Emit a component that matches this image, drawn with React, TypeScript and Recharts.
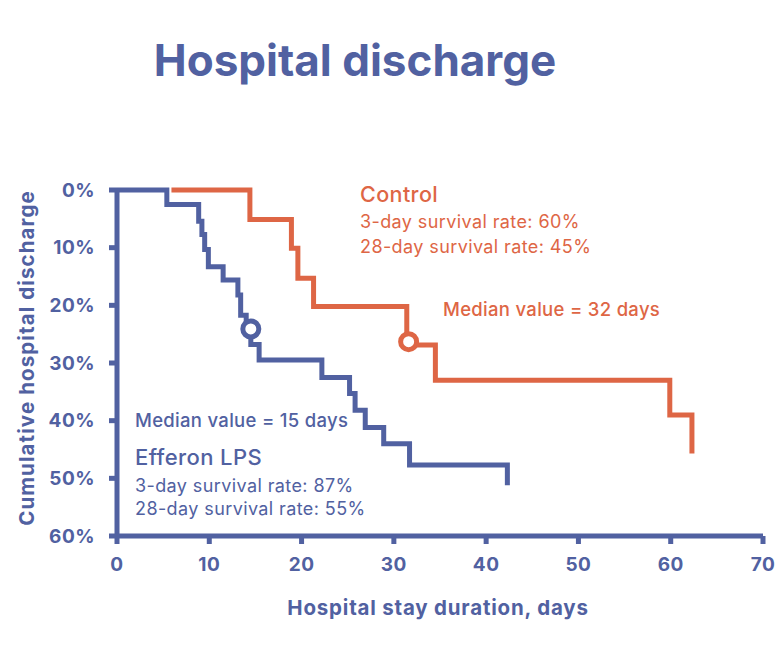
import React from "react";
import {
  LineChart,
  Line,
  XAxis,
  YAxis,
  ReferenceDot,
} from "recharts";

const BLUE = "#5161a1";
const ORANGE = "#de6645";
const FONT = "Inter, 'Open Sans', sans-serif";

// Efferon LPS: day of each event and cumulative discharge (%) after it
const efferonDays = [0, 5.4, 8.85, 9.2, 9.5, 9.9, 11.5, 13.1, 13.4, 14.0, 14.5, 15.4, 22.2, 25.2, 25.8, 26.9, 28.9, 31.7, 42.3];
const efferonPct = [0, 2.5, 5.4, 7.7, 10.3, 13.3, 15.6, 18.2, 21.7, 24.3, 26.8, 29.5, 32.5, 35.3, 38.2, 41.2, 44.0, 47.7, 51.2];

// Control
const controlDays = [5.9, 14.4, 18.9, 19.6, 21.3, 31.4, 34.5, 59.9, 62.3];
const controlPct = [0, 5.1, 10.1, 15.3, 20.2, 26.9, 33.0, 39.0, 45.7];

// median markers [day, pct]
const efferonMedian = [14.5, 24.1];
const controlMedian = [31.6, 26.3];

const xTicks = [0, 10, 20, 30, 40, 50, 60, 70];
const yTicks = [0, 10, 20, 30, 40, 50, 60];

const efferonData = efferonDays.map((d, i) => ({ day: d, pct: efferonPct[i] }));
const controlData = controlDays.map((d, i) => ({ day: d, pct: controlPct[i] }));

const tickStyle = {
  fill: BLUE,
  fontSize: 19,
  fontWeight: 700,
  fontFamily: FONT,
  letterSpacing: 0.5,
};

export default function App() {
  return (
    <div style={{ position: "absolute", left: 0, top: 0, width: 780, height: 670, background: "#fff" }}>
      <LineChart
        width={780}
        height={670}
        margin={{ top: 190, right: 17, bottom: 0, left: 0 }}
      >
        <XAxis
          dataKey="day"
          type="number"
          domain={[0, 70]}
          ticks={xTicks}
          allowDuplicatedCategory={false}
          height={134}
          axisLine={{ stroke: BLUE, strokeWidth: 5 }}
          tickLine={{ stroke: BLUE, strokeWidth: 5 }}
          tickSize={8}
          tick={tickStyle}
          tickMargin={14}
        />
        <YAxis
          dataKey="pct"
          type="number"
          reversed
          domain={[0, 60]}
          ticks={yTicks}
          width={117}
          axisLine={{ stroke: BLUE, strokeWidth: 5 }}
          tickLine={{ stroke: BLUE, strokeWidth: 5 }}
          tickSize={8}
          tick={tickStyle}
          tickMargin={14}
          tickFormatter={(v: number) => `${v}%`}
        />
        <Line
          data={controlData}
          dataKey="pct"
          type="stepAfter"
          stroke={ORANGE}
          strokeWidth={5}
          dot={false}
          isAnimationActive={false}
        />
        <Line
          data={efferonData}
          dataKey="pct"
          type="stepAfter"
          stroke={BLUE}
          strokeWidth={5}
          dot={false}
          isAnimationActive={false}
        />
        <ReferenceDot
          x={efferonMedian[0]}
          y={efferonMedian[1]}
          r={8}
          fill="#fff"
          stroke={BLUE}
          strokeWidth={5}
        />
        <ReferenceDot
          x={controlMedian[0]}
          y={controlMedian[1]}
          r={8}
          fill="#fff"
          stroke={ORANGE}
          strokeWidth={5}
        />
      </LineChart>
      <svg
        width={780}
        height={670}
        style={{ position: "absolute", left: 0, top: 0, pointerEvents: "none" }}
        fontFamily={FONT}
      >
        <text x={355} y={76} textAnchor="middle" fill={BLUE} fontSize={44} fontWeight={700}>
          Hospital discharge
        </text>
        <text
          transform="translate(34,358) rotate(-90)"
          textAnchor="middle"
          fill={BLUE}
          fontSize={20.5}
          fontWeight={700}
          letterSpacing={1.1}
        >
          Cumulative hospital discharge
        </text>
        <text x={438} y={615} textAnchor="middle" fill={BLUE} fontSize={20.5} fontWeight={700} letterSpacing={0.8}>
          Hospital stay duration, days
        </text>

        <g fill={ORANGE}>
          <text x={360} y={202} fontSize={21.5} fontWeight={500} letterSpacing={0.4}>Control</text>
          <text x={360} y={228} fontSize={18} letterSpacing={0.4}>3-day survival rate: 60%</text>
          <text x={360} y={253} fontSize={18} letterSpacing={0.4}>28-day survival rate: 45%</text>
          <text x={443} y={316} fontSize={18.5} fontWeight={500} letterSpacing={0.3}>Median value = 32 days</text>
        </g>

        <g fill={BLUE}>
          <text x={135} y={427} fontSize={18.5} fontWeight={500} letterSpacing={0.3}>Median value = 15 days</text>
          <text x={135} y={465} fontSize={22} fontWeight={500} letterSpacing={0.4}>Efferon LPS</text>
          <text x={135} y={492} fontSize={18} letterSpacing={0.4}>3-day survival rate: 87%</text>
          <text x={135} y={515} fontSize={18} letterSpacing={0.4}>28-day survival rate: 55%</text>
        </g>
      </svg>
    </div>
  );
}
